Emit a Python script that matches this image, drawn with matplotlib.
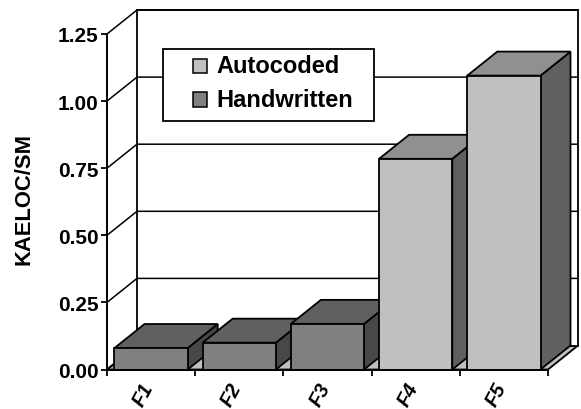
import matplotlib
matplotlib.use('Agg')
import matplotlib.pyplot as plt
from matplotlib.patches import Polygon, Rectangle

plt.rcParams['font.family'] = ['Liberation Sans', 'DejaVu Sans']
plt.rcParams['font.weight'] = 'bold'

categories = ['F1', 'F2', 'F3', 'F4', 'F5']
values = [0.08, 0.10, 0.17, 0.785, 1.095]
kinds = ['Handwritten', 'Handwritten', 'Handwritten', 'Autocoded', 'Autocoded']
y_ticks = [0.00, 0.25, 0.50, 0.75, 1.00, 1.25]

# front, top, side shades for each series
shades = {'Autocoded': ('#c0c0c0', '#909090', '#606060'),
          'Handwritten': ('#808080', '#606060', '#484848')}

W, H = 581, 410
fig = plt.figure(figsize=(W / 100, H / 100), dpi=100)
ax = fig.add_axes([107 / W, (H - 370.5) / H, 441 / W, 335.5 / H])
ax.set_xlim(0, 5)
ax.set_ylim(0, 1.25)

# depth of the fake 3d box in data units
dx = 30 / (441 / 5)
dy = 24 / (335.5 / 1.25)
bar_w = 0.83


def poly(pts, fc, ec='black', lw=1.3, z=2):
    ax.add_patch(Polygon(pts, closed=True, fc=fc, ec=ec, lw=lw, zorder=z,
                         clip_on=False, joinstyle='miter'))


def line(xs, ys, lw=1.3, z=1.5, color='black'):
    ax.plot(xs, ys, color=color, lw=lw, zorder=z, clip_on=False,
            solid_capstyle='projecting')


# floor and back wall
poly([(0, 0), (5, 0), (5 + dx, dy), (dx, dy)], '#c0c0c0', z=1)
poly([(dx, dy), (5 + dx, dy), (5 + dx, 1.25 + dy), (dx, 1.25 + dy)], 'white', z=1)

# gridlines run along the back wall and down the left side
for t in y_ticks[1:]:
    line([0, dx, 5 + dx], [t, t + dy, t + dy], lw=1.1)
line([0, dx], [0, dy])

# bars, left to right so later ones overlap the earlier ones
for i, (v, kind) in enumerate(zip(values, kinds)):
    front, top, side = shades[kind]
    l = i + 0.5 - bar_w / 2
    r = i + 0.5 + bar_w / 2
    z = 3 + i
    poly([(r, 0), (r + dx, dy), (r + dx, v + dy), (r, v)], side, z=z)
    poly([(l, v), (r, v), (r + dx, v + dy), (l + dx, v + dy)], top, z=z)
    poly([(l, 0), (r, 0), (r, v), (l, v)], front, z=z)

for s in ['top', 'right']:
    ax.spines[s].set_visible(False)
for s in ['left', 'bottom']:
    ax.spines[s].set_linewidth(1.4)
    ax.spines[s].set_zorder(10)
ax.patch.set_visible(False)

ax.set_yticks(y_ticks)
ax.set_yticklabels(['%.2f' % t for t in y_ticks], fontsize=15, fontweight='bold')
ax.set_xticks(range(6))
ax.set_xticklabels([])
ax.tick_params(axis='both', length=4, width=1.3, pad=2)

for i, c in enumerate(categories):
    ax.annotate(c, (i + 0.5, 0), xytext=(-5.5, -17.5), textcoords='offset points',
                rotation=62, ha='center', va='center', fontsize=14.5,
                fontstyle='italic', fontweight='bold', annotation_clip=False)

fig.text(24 / W, (H - 199) / H, 'KAELOC/SM', rotation=90, ha='center', va='center',
         fontsize=15.8, fontweight='bold')

# legend box placed by hand, in pixel coordinates
lg = fig.add_axes([0, 0, 1, 1], zorder=5)
lg.set_xlim(0, W)
lg.set_ylim(H, 0)
lg.axis('off')
lg.add_patch(Rectangle((163, 49.5), 211, 72, fc='white', ec='black', lw=1.3))
for name, top_y, text_y in [('Autocoded', 59.5, 66.5), ('Handwritten', 93, 100.5)]:
    lg.add_patch(Rectangle((193, top_y), 14, 14.5, fc=shades[name][0], ec='black', lw=1.1))
    lg.text(216, text_y, name, ha='left', va='center', fontsize=17, fontweight='bold')

fig.savefig('out.png', dpi=100)
